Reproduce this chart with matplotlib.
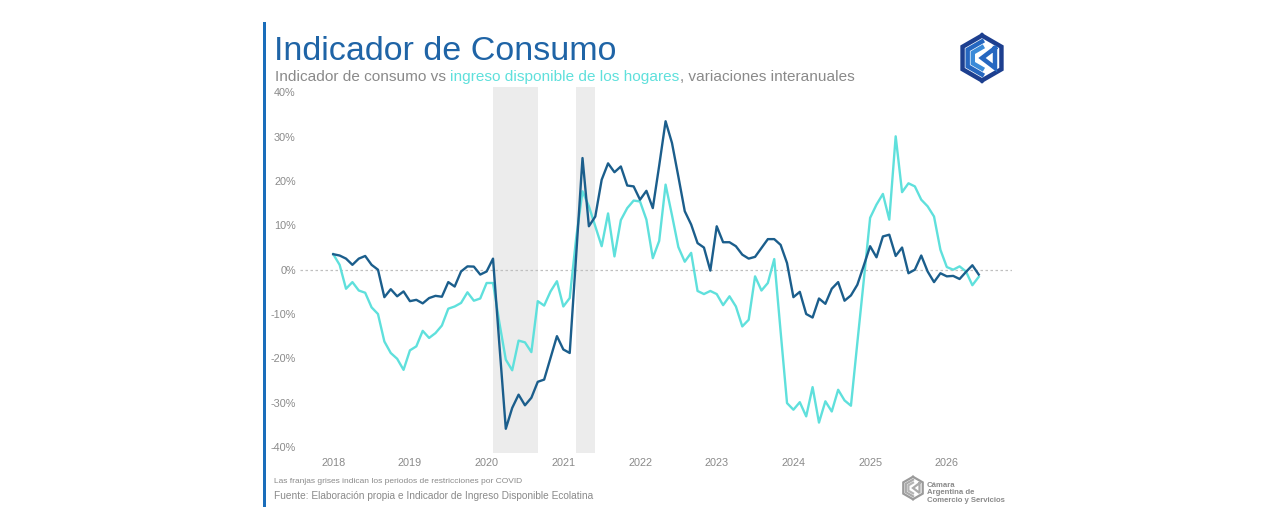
import numpy as np
import matplotlib
matplotlib.use("Agg")
import matplotlib.pyplot as plt

plt.rcParams['font.family'] = ['Liberation Sans', 'DejaVu Sans']

# serie mensual ene-2018 .. jun-2026 (var. % interanual)
consumo = [
    3.5, 3.2, 2.5, 1.1, 2.5, 3.1, 1.1, 0.0, -6.2, -4.4, -6.0, -4.9,          # 2018
    -7.1, -6.8, -7.6, -6.4, -5.9, -6.1, -2.8, -3.8, -0.4, 0.75, 0.7, -1.1,   # 2019
    -0.4, 2.5, -17.0, -35.9, -31.2, -28.2, -30.6, -28.9, -25.3, -24.8, -19.9, -15.0,  # 2020
    -18.0, -18.8, 3.0, 25.2, 9.8, 12.0, 20.3, 24.0, 22.0, 23.3, 19.0, 18.8,  # 2021
    15.8, 17.8, 13.9, 23.5, 33.5, 28.6, 21.0, 13.2, 10.2, 6.0, 5.0, -0.2,    # 2022
    9.8, 6.2, 6.2, 5.3, 3.4, 2.5, 2.9, 4.9, 6.9, 6.9, 5.6, 1.5,              # 2023
    -6.2, -5.0, -10.0, -10.8, -6.5, -7.7, -4.3, -2.8, -7.0, -5.8, -3.4, 0.9, # 2024
    5.3, 2.8, 7.5, 7.9, 3.1, 5.0, -0.8, 0.0, 3.2, -0.4, -2.8, -0.8,          # 2025
    -1.5, -1.4, -2.1, -0.5, 1.0, -1.1,                                       # 2026
]
ingreso = [
    3.5, 1.1, -4.3, -2.8, -4.7, -5.2, -8.5, -10.0, -16.2, -18.8, -20.1, -22.6,
    -18.2, -17.3, -13.8, -15.4, -14.3, -12.6, -8.8, -8.3, -7.5, -5.1, -7.0, -6.5,
    -3.0, -3.0, -12.0, -20.3, -22.7, -16.0, -16.4, -18.6, -7.1, -8.1, -4.9, -2.6,
    -8.3, -6.4, 7.0, 17.7, 14.3, 9.8, 5.3, 12.7, 3.0, 11.2, 13.9, 15.6,
    15.4, 11.3, 2.6, 6.5, 19.2, 12.3, 5.1, 1.8, 3.8, -4.8, -5.5, -4.8,
    -5.5, -8.0, -6.0, -8.3, -12.8, -11.3, -1.5, -4.7, -3.0, 2.4, -14.0, -30.1,
    -31.6, -29.9, -33.1, -26.5, -34.5, -29.7, -32.0, -27.1, -29.5, -30.7, -16.5, -2.5,
    11.7, 14.7, 17.1, 11.3, 30.1, 17.5, 19.5, 18.8, 15.8, 14.3, 12.0, 4.5,
    0.6, 0.0, 0.75, -0.4, -3.5, -1.6,
]
years = ["2018", "2019", "2020", "2021", "2022", "2023", "2024", "2025", "2026"]
# franjas COVID (indice de mes desde ene-2018)
covid = [(25, 32), (38, 41)]

DARK = "#1b5e8c"
CYAN = "#5fe0dc"
GRAY = "#8a8a8a"
TITLE = "#1f64a6"

fig = plt.figure(figsize=(12.8, 5.31), dpi=100)
W, H = 1280, 531


def px(x0, y0, w, h):
    # caja en pixeles (desde arriba-izq) -> coords de figura
    return [x0 / W, 1 - (y0 + h) / H, w / W, h / H]


ax = fig.add_axes(px(300, 86.7, 712, 366))
m = np.arange(len(consumo))
for a, b in covid:
    ax.axvspan(a, b, color="#ececec", lw=0, zorder=0)
ax.axhline(0, color="#c0c0c0", lw=0.9, ls=(0, (2, 2)), zorder=1)
ax.plot(m, ingreso, color=CYAN, lw=1.7, zorder=2)
ax.plot(m, consumo, color=DARK, lw=1.7, zorder=3)

ax.set_xlim(-5.2, 106.2)
ax.set_ylim(-41.3, 41.3)
ax.set_yticks(np.arange(-40, 41, 10))
ax.set_yticklabels([f"{v}%" for v in range(-40, 41, 10)])
ax.set_xticks(np.arange(len(years)) * 12)
ax.set_xticklabels(years)
ax.tick_params(length=0, labelsize=7.8, labelcolor=GRAY, pad=4)
ax.tick_params(axis="y", pad=3)
for s in ax.spines.values():
    s.set_visible(False)

# barra vertical izquierda
fig.add_artist(plt.Rectangle((263 / W, 1 - 507 / H), 3 / W, 485 / H,
                             transform=fig.transFigure, color="#1a6dba", lw=0))

fig.text(274 / W, 1 - 60 / H, "Indicador de Consumo", fontsize=24.5,
         color=TITLE, va="baseline")
t1 = fig.text(275 / W, 1 - 81 / H, "Indicador de consumo vs ", fontsize=11.1,
              color=GRAY, va="baseline")
fig.canvas.draw()
r = fig.canvas.get_renderer()
bb = t1.get_window_extent(r)
t2 = fig.text(bb.x1 / W, 1 - 81 / H, "ingreso disponible de los hogares",
              fontsize=11.1, color=CYAN, va="baseline")
fig.canvas.draw()
bb2 = t2.get_window_extent(r)
fig.text(bb2.x1 / W, 1 - 81 / H, ", variaciones interanuales", fontsize=11.1,
         color=GRAY, va="baseline")

fig.text(274 / W, 1 - 483 / H,
         "Las franjas grises indican los periodos de restricciones por COVID",
         fontsize=6, color=GRAY, va="baseline")
fig.text(274 / W, 1 - 499 / H,
         "Fuente: Elaboración propia e Indicador de Ingreso Disponible Ecolatina",
         fontsize=7.3, color=GRAY, va="baseline")


def logo(box, colors, lw):
    la = fig.add_axes(box)
    la.set_xlim(-1.1, 1.1)
    la.set_ylim(-1.1, 1.1)
    la.axis("off")

    def hexpts(rr):
        return {"t": (0, rr), "ul": (-0.866 * rr, 0.5 * rr), "ll": (-0.866 * rr, -0.5 * rr),
                "b": (0, -rr), "lr": (0.866 * rr, -0.5 * rr), "ur": (0.866 * rr, 0.5 * rr)}

    for i, rr in enumerate([0.95, 0.7, 0.45]):
        h = hexpts(rr)
        pts = [h["t"], h["ul"], h["ll"], h["b"]]
        la.plot(*zip(*pts), color=colors[i], lw=lw, solid_joinstyle="miter")
    h = hexpts(0.95)
    la.plot(*zip(*[h["t"], h["ur"], h["lr"], h["b"]]), color=colors[0], lw=lw,
            solid_joinstyle="miter")
    tri = [(0.55, 0.42), (0.0, 0.0), (0.55, -0.42), (0.55, 0.42)]
    la.plot(*zip(*tri), color=colors[1], lw=lw, solid_joinstyle="miter")


logo(px(956, 32, 52, 52), ["#1d3f8f", "#2667c0", "#3a8ad8"], 3.2)
logo(px(900, 475, 26, 26), ["#9a9a9a", "#aaaaaa", "#b5b5b5"], 1.6)
fig.text(927 / W, 1 - 482 / H, "Cámara\nArgentina de\nComercio y Servicios",
         fontsize=5.6, color="#8a8a8a", fontweight="bold", va="top",
         linespacing=1.05)

fig.savefig("out.png", dpi=100, facecolor="white")
